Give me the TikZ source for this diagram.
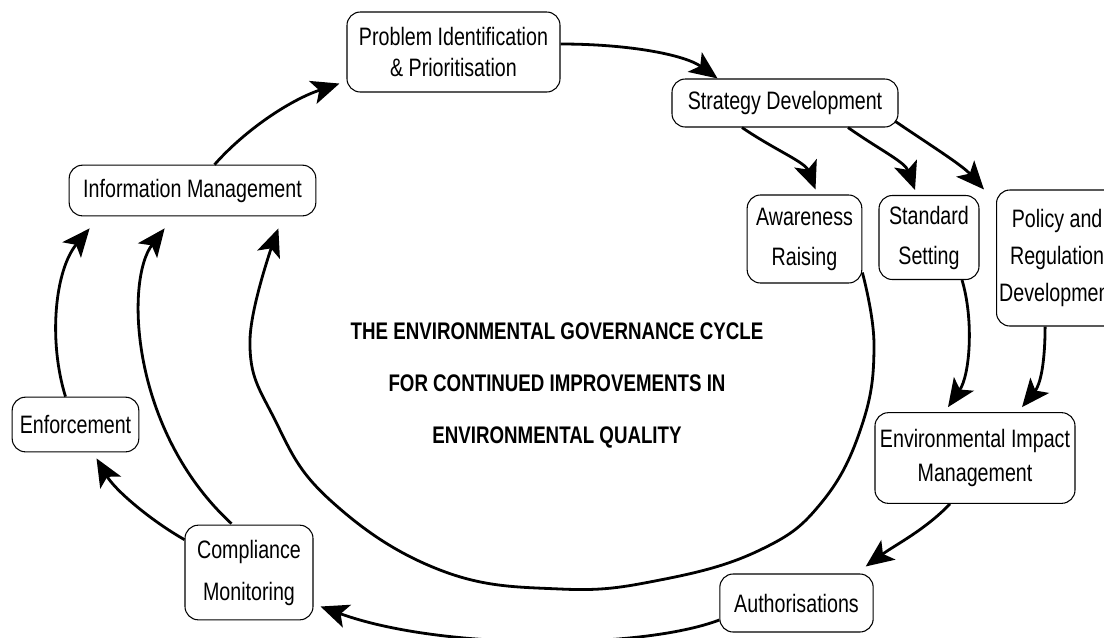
\documentclass[tikz,border=0pt]{standalone}
\usepackage{fontspec}
\setmainfont[FakeStretch=0.78]{Liberation Sans}
\newfontfamily\titlefont[FakeStretch=0.78]{Liberation Sans}
\usetikzlibrary{arrows.meta,calc}
\begin{document}
\begin{tikzpicture}[x=0.75pt,y=-0.75pt,
  box/.style={draw, line width=0.8pt, rounded corners=10pt, align=center, inner sep=1pt,
              font=\fontsize{18.9}{24}\selectfont},
  ls/.style={font=\fontsize{18.9}{#1}\selectfont},
  conn/.style={line width=2.1pt, -{Stealth[length=21pt,width=18pt,inset=5pt]}}]
\useasboundingbox (0,0) rectangle (1104,637);
\clip (0,0) rectangle (1104,637);

% boxes
\node[box, minimum width=159.75pt, minimum height=60pt, ls=23] (prob) at (453.5,52) {Problem Identification\\\& Prioritisation};
\node[box, minimum width=169.5pt, minimum height=36pt] (strat) at (785,103) {Strategy Development};
\node[box, minimum width=86pt, minimum height=66pt, ls=30] (aware) at (804.5,239) {Awareness\\Raising};
\node[box, minimum width=75pt, minimum height=63pt, ls=30] (std) at (929,237.5) {Standard\\Setting};
\node[box, anchor=west, minimum height=102pt, ls=28, inner xsep=2pt] (pol) at (996,258) {Policy and\\Regulation\\Development};
\node[box, minimum width=185pt, minimum height=38pt] (info) at (192.5,190.5) {Information Management};
\node[box, minimum width=95pt, minimum height=41pt] (enf) at (75.5,424.5) {Enforcement};
\node[box, minimum width=96pt, minimum height=71pt, ls=31.5] (comp) at (249,572.5) {Compliance\\Monitoring};
\node[box, minimum width=150pt, minimum height=68pt, ls=25.5] (eim) at (975,458) {Environmental Impact\\Management};
\node[box, minimum width=115pt, minimum height=43.5pt] (auth) at (796.5,603) {Authorisations};

% title
\node[font=\titlefont\bfseries\fontsize{18}{39}\selectfont, align=center] (title) at (557,385)
  {THE ENVIRONMENTAL GOVERNANCE CYCLE\\FOR CONTINUED IMPROVEMENTS IN\\ENVIRONMENTAL QUALITY};

% connectors
\draw[conn] ($(info.north)+(22,0)$) .. controls (245,130) and (290,100) .. ($(prob.south west)+(-7,-9)$);
\draw[conn] ($(prob.east)+(0,-8)$) .. controls (630,44) and (685,55) .. (strat.160);
\draw[conn] ($(strat.south)+(-43,0)$) .. controls (775,150) and (805,162) .. ($(aware.north)+(11,-5)$);
\draw[conn] ($(strat.south)+(63,0)$) .. controls (880,150) and (905,162) .. ($(std.north)+(-14,-5)$);
\draw[conn] ($(strat.south east)+(-3,-6)$) .. controls (930,145) and (962,165) .. ($(pol.north west)+(-12,0)$);
\draw[conn] ($(std.south)+(33,0)$) .. controls (974,320) and (970,375) .. ($(eim.north)+(-27,-5)$);
\draw[conn] ($(pol.south)+(-12,0)$) .. controls (1045,365) and (1040,385) .. ($(eim.north)+(47,-5)$);
\draw[conn] ($(eim.south)+(-25,0)$) .. controls (925,530) and (895,545) .. ($(auth.north east)+(-8,-7)$);
\draw[conn] ($(auth.west)+(0,17)$) .. controls (640,650) and (440,650) .. ($(comp.east)+(7,34)$);
\draw[conn] ($(comp.north west)+(0,15)$) .. controls (150,520) and (115,490) .. ($(enf.south)+(21,6)$);
\draw[conn] ($(comp.north west)+(47,-1)$) .. controls (130,430) and (125,280) .. ($(info.south west)+(96,12)$);
\draw[conn] ($(enf.north)+(-10,0)$) .. controls (48,340) and (55,270) .. ($(info.south west)+(21,12)$);
\draw[conn] plot[smooth, tension=0.7] coordinates {($(aware.south east)+(0,-11)$) (874,345) (862,425) (822,502) (760,550) (660,580) (560,589) (440,570) (330,500) (275,420) (250,340) ($(info.south east)+(-38,12)$)};
\end{tikzpicture}
\end{document}
